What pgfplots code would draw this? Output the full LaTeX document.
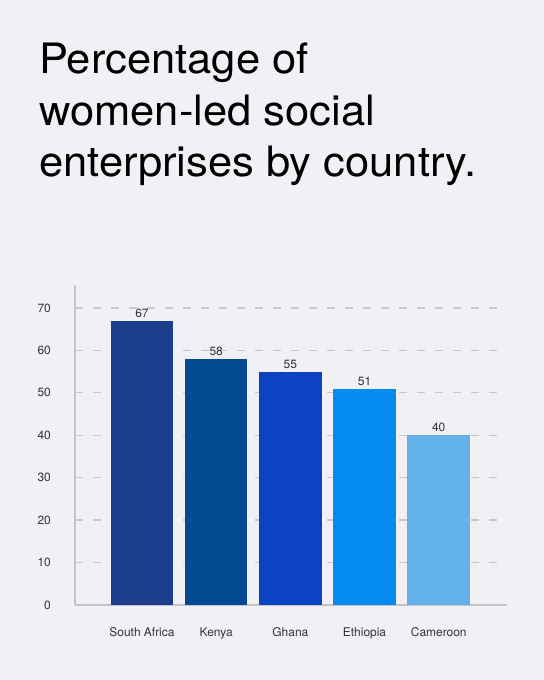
\documentclass[border=0pt]{standalone}
\usepackage{fontspec}
\setmainfont{TeX Gyre Heros}
\newfontfamily\titlefont[FakeStretch=1.04]{TeX Gyre Heros}
\usepackage{pgfplots}
\pgfplotsset{compat=1.18}
\definecolor{bg}{HTML}{F0F0F5}
\definecolor{cA}{HTML}{1C3D8B}
\definecolor{cB}{HTML}{034A93}
\definecolor{cC}{HTML}{0B43C2}
\definecolor{cD}{HTML}{068CF0}
\definecolor{cE}{HTML}{63B1EA}
\definecolor{axgray}{HTML}{C4C4C8}
\definecolor{gridgray}{HTML}{C8C8CC}
\definecolor{lbl}{HTML}{333333}
\begin{document}
\begin{tikzpicture}
\fill[bg] (0bp,0bp) rectangle (544bp,680bp);
\node[anchor=base west, inner sep=0pt, font=\titlefont\fontsize{42}{49}\selectfont] at (39bp,606bp) {Percentage of};
\node[anchor=base west, inner sep=0pt, font=\titlefont\fontsize{42}{49}\selectfont] at (39bp,554bp) {women-led social};
\node[anchor=base west, inner sep=0pt, font=\titlefont\fontsize{42}{49}\selectfont] at (39bp,503bp) {enterprises by country.};
\begin{axis}[
  at={(75bp,75bp)}, anchor=south west,
  scale only axis, width=432bp, height=320bp,
  xmin=-0.903, xmax=4.92, ymin=0, ymax=75.4,
  axis x line=bottom, axis y line=left,
  axis line style={-, draw=axgray, line width=1.5bp},
  ybar, bar width=62.5bp,
  xtick={0,1,2,3,4},
  xticklabels={South Africa,Kenya,Ghana,Ethiopia,Cameroon},
  ytick={0,10,20,30,40,50,60,70},
  major tick length=0pt,
  ymajorgrids,
  major grid style={draw=gridgray, line width=1.3bp, dash pattern=on 8bp off 10bp},
  /pgf/number format/assume math mode=true,
  xticklabel style={anchor=base, inner sep=0pt, yshift=-31bp, font=\fontsize{12}{14}\selectfont, text=lbl},
  yticklabel style={anchor=east, inner sep=0pt, xshift=-24bp, font=\fontsize{12}{14}\selectfont, text=lbl},
  nodes near coords,
  every node near coord/.append style={anchor=base, inner sep=0pt, yshift=3.5bp, font=\fontsize{12}{14}\selectfont, text=lbl},
  clip=false,
]
\addplot[fill=cA, draw=none, bar shift=0pt] coordinates {(0,67)};
\addplot[fill=cB, draw=none, bar shift=0pt] coordinates {(1,58)};
\addplot[fill=cC, draw=none, bar shift=0pt] coordinates {(2,55)};
\addplot[fill=cD, draw=none, bar shift=0pt] coordinates {(3,51)};
\addplot[fill=cE, draw=none, bar shift=0pt] coordinates {(4,40)};
\end{axis}
\end{tikzpicture}
\end{document}
